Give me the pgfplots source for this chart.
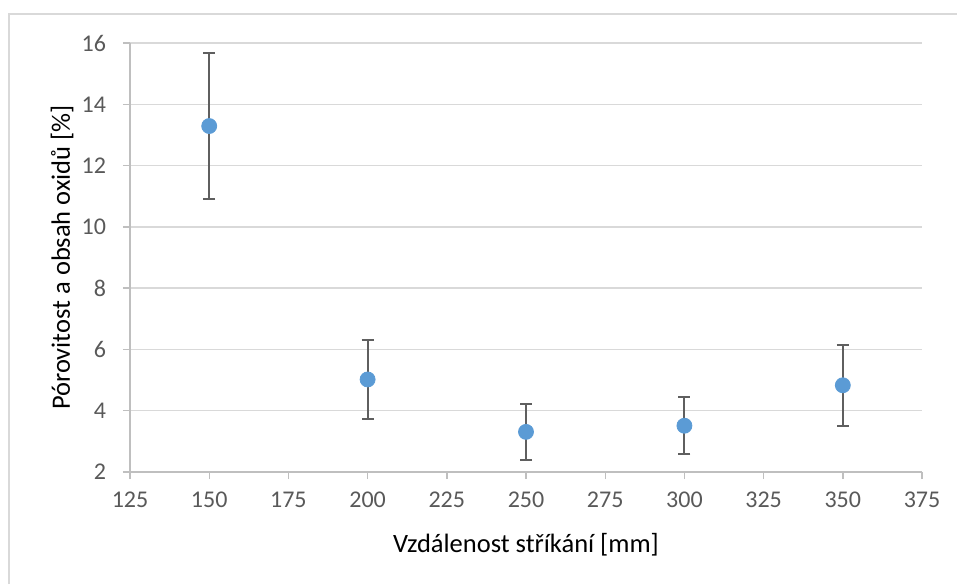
\documentclass[border=0pt]{standalone}
\usepackage{pgfplots}
\pgfplotsset{compat=1.18}
\usepackage{fontspec}
\setmainfont{Carlito}
\definecolor{ptblue}{HTML}{5B9BD5}
\definecolor{gridc}{HTML}{D9D9D9}
\definecolor{axc}{HTML}{BFBFBF}
\definecolor{txt}{HTML}{595959}
\definecolor{errc}{HTML}{5F5F5F}
\begin{document}
\begin{tikzpicture}
\useasboundingbox (0,0) rectangle (478.5pt,292pt);
\draw[gridc, line width=0.6pt] (4.5pt,0) -- (4.5pt,285pt) -- (480pt,285pt);
\begin{axis}[
  at={(65pt,56pt)}, anchor=south west,
  width=396pt, height=214.5pt, scale only axis,
  xmin=125, xmax=375, ymin=2, ymax=16,
  xtick={125,150,...,375}, ytick={2,4,...,16},
  axis line style={axc, line width=0.7pt},
  axis x line*=bottom, axis y line*=left,
  ymajorgrids, grid style={gridc, line width=0.7pt},
  tick style={axc, line width=0.7pt},
  tick align=outside, major tick length=3.5pt,
  xtick pos=bottom, ytick pos=left,
  ticklabel style={font=\fontsize{12}{14}\selectfont, text=txt},
  xticklabel style={yshift=-3pt},
  yticklabel style={xshift=-5pt},
  /pgf/number format/assume math mode=true,
  xlabel={Vzdálenost stříkání [mm]},
  ylabel={Pórovitost a obsah oxidů [\%]},
  every axis y label/.style={at={([xshift=-34pt]axis description cs:0,0.5)}, anchor=center, rotate=90, font=\fontsize{13.25}{15}\selectfont},
  every axis x label/.style={at={([yshift=-36.5pt]axis description cs:0.5,0)}, anchor=center, font=\fontsize{13.25}{15}\selectfont},
  clip=false,
]
\addplot+[only marks, mark=*, mark size=3.75pt,
  mark options={fill=ptblue, draw=ptblue},
  error bars/.cd, y dir=both, y explicit,
  error bar style={errc, line width=1pt},
  error mark options={rotate=90, mark size=3pt, errc, line width=1pt}]
  coordinates {
  (150,13.29) +- (0,2.37)
  (200,5.02) +- (0,1.28)
  (250,3.31) +- (0,0.91)
  (300,3.51) +- (0,0.93)
  (350,4.83) +- (0,1.32)
  };
\end{axis}
\end{tikzpicture}
\end{document}
